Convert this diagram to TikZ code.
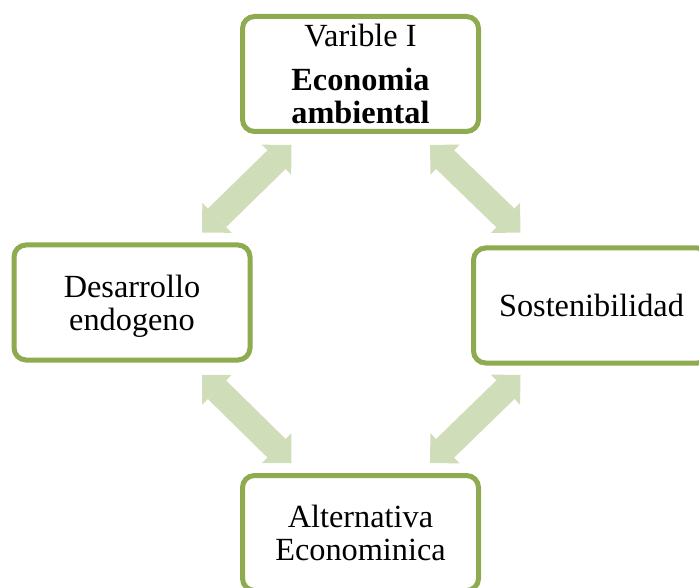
\documentclass[tikz,border=0pt]{standalone}
\usepackage{fontspec}
\setmainfont{Liberation Serif}
\usetikzlibrary{arrows.meta}
\definecolor{boxgreen}{HTML}{8EAB50}
\definecolor{arrowgreen}{HTML}{CFDDB8}
\begin{document}
\begin{tikzpicture}[x=1pt,y=-1pt,
  box/.style={draw=boxgreen,line width=5pt,rounded corners=12pt,fill=white,
    minimum width=236pt,minimum height=115pt,align=center,
    font=\fontsize{32.3}{33}\selectfont},
  link/.style={arrowgreen,line width=26pt,
    {Triangle[length=21pt,width=42pt,line width=0pt]}-{Triangle[length=21pt,width=42pt,line width=0pt]}}]
\useasboundingbox (0,0) rectangle (699,588);
% boxes
\node[box](Var) at (360.5,74){Varible I\\[11pt]\textbf{Economia}\\\textbf{ambiental}};
\node[box](Des) at (132,302.5){\rule{0pt}{30pt}Desarrollo\\endogeno};
\node[box](Sos) at (591.5,305.5){Sostenibilidad};
\node[box](Alt) at (360.5,533){Alternativa\\Econominica};
% arrow ends
\coordinate (VD1) at (291.5,145);
\coordinate (VD2) at (202,232.5);
\coordinate (VS1) at (430,145);
\coordinate (VS2) at (520.5,232.5);
\coordinate (DA1) at (202,375);
\coordinate (DA2) at (291.5,463);
\coordinate (SA1) at (520.5,375);
\coordinate (SA2) at (430,463);
\draw[link] (VD1) -- (VD2);
\draw[link] (VS1) -- (VS2);
\draw[link] (DA1) -- (DA2);
\draw[link] (SA1) -- (SA2);
\end{tikzpicture}
\end{document}
